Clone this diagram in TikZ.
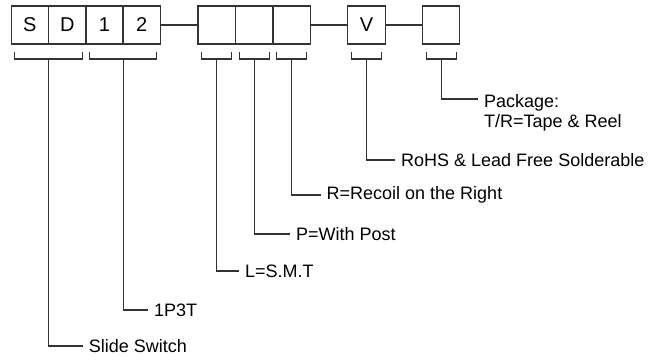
\documentclass[tikz,border=0pt]{standalone}
\usepackage{fontspec}
\setmainfont{Liberation Sans}
\usetikzlibrary{calc, positioning}
\definecolor{ink}{HTML}{333333}

\tikzset{
  digit/.style={draw=ink, line width=1.2pt, minimum width=37.5pt, minimum height=38pt,
    inner sep=0pt, outer sep=0pt, font=\fontsize{20}{20}\selectfont},
  note/.style={anchor=west, inner xsep=6pt, inner ysep=0pt, align=left,
    font=\fontsize{18}{20}\selectfont},
  lead/.style={draw=ink, line width=1.1pt}
}

\begin{document}
\begin{tikzpicture}[x=1pt, y=-1pt]
  \useasboundingbox (0,0) rectangle (657,361);
  % part number boxes
  \foreach \n/\x/\t in {S/29.85/S, D/67.3/D, 1/104.5/1, 2/141.8/2,
                        L/216.8/, P/254.3/, R/291.8/, V/366.5/V, T/441.1/}
    \node[digit] (b\n) at (\x,25) {\t};
  \draw[lead] (b2) -- (bL);
  \draw[lead] (bR) -- (bV);
  \draw[lead] (bV) -- (bT);

  % brackets
  \draw[lead] ($(bS.south)+(-15,8)$) -- ++(0,7) -| ($(bD.south)+(15,8)$);
  \draw[lead] ($(b1.south)+(-15,8)$) -- ++(0,7) -| ($(b2.south)+(15,8)$);
  \foreach \n in {L,P,R,V,T}
    \draw[lead] ($(b\n.south)+(-15,8)$) -- ++(0,7) -- ++(30,0) -- ++(0,-7);
  \coordinate (kSD) at ($(bS.south)!.5!(bD.south)+(0,15)$);
  \coordinate (k12) at ($(b1.south)!.5!(b2.south)+(0,15)$);
  \foreach \n in {L,P,R,V,T}
    \coordinate (k\n) at ($(b\n.south)+(0,15)$);

  % labels
  \node[note] (nSD) at (82.7,346) {Slide Switch};
  \node[note] (n12) at (148,310) {1P3T};
  \node[note] (nL) at (239,271) {L=S.M.T};
  \node[note] (nP) at (290,234) {P=With Post};
  \node[note] (nR) at (320.5,195) {R=Recoil on the Right};
  \node[note] (nV) at (395,160) {RoHS \& Lead Free Solderable};
  \node[note] (nT) at (478,112.5) {Package:\\T/R=Tape \& Reel};
  \coordinate (pT) at (478,99);

  \draw[lead] (kSD) |- (nSD.west);
  \draw[lead] (k12) |- (n12.west);
  \draw[lead] (kL) |- (nL.west);
  \draw[lead] (kP) |- (nP.west);
  \draw[lead] (kR) |- (nR.west);
  \draw[lead] (kV) |- (nV.west);
  \draw[lead] (kT) |- (pT);
\end{tikzpicture}
\end{document}
